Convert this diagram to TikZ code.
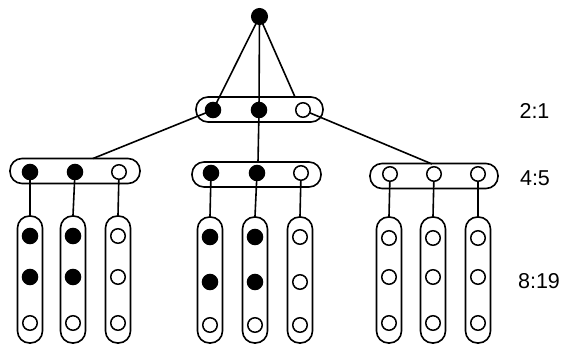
\documentclass[tikz,border=0pt]{standalone}
\usepackage{fontspec}
\setmainfont{Liberation Sans}
\usetikzlibrary{backgrounds}
\tikzset{
  dot/.style={circle, fill=black, draw=black, line width=1pt, inner sep=0pt, minimum size=15.5pt},
  odot/.style={circle, draw=black, fill=white, line width=1.5pt, inner sep=0pt, minimum size=14.5pt},
  hcap/.style={draw, line width=1.6pt, rounded corners=12pt, inner sep=0pt, minimum height=25pt},
  vcap/.style={draw, line width=1.6pt, rounded corners=12pt, inner sep=0pt, minimum width=25pt, minimum height=127pt},
  conn/.style={line width=1.6pt},
  ratio/.style={font=\fontsize{21.5}{24}\selectfont, inner sep=0pt}
}
\begin{document}
\begin{tikzpicture}[x=1pt,y=-1pt]
\useasboundingbox (0,0) rectangle (562,345);
% top
\node[dot, minimum size=16pt] (t) at (259.5,16.5) {};
% level 1
\node[hcap, minimum width=127pt] (c1) at (259.5,109.5) {};
\node[dot] (a1) at (213,110) {};
\node[dot] (a2) at (259,110) {};
\node[odot] (a3) at (303,110) {};
\coordinate (c1r) at (295,97);
% level 2
\node[hcap, minimum width=130pt] (cL) at (75,171) {};
\node[hcap, minimum width=129pt] (cM) at (256.5,174.5) {};
\node[hcap, minimum width=128pt] (cR) at (434,176) {};
\coordinate (cLt) at (93,158.5);
\coordinate (cMt) at (258,162);
\coordinate (cRt) at (432,164);
\node[dot] (l1) at (30,172) {};
\node[dot] (l2) at (75,172) {};
\node[odot] (l3) at (119,172) {};
\node[dot] (m1) at (211,173) {};
\node[dot] (m2) at (257,173) {};
\node[odot] (m3) at (301,173) {};
\node[odot] (r1) at (390,174) {};
\node[odot] (r2) at (434,174) {};
\node[odot] (r3) at (478,174) {};
% level 3 left group
\node[vcap] (vl1) at (30,279.5) {};
\node[vcap] (vl2) at (73,279.5) {};
\node[vcap] (vl3) at (118,279.5) {};
\node[dot] at (30,236) {}; \node[dot] at (30,277) {}; \node[odot] at (30,323) {};
\node[dot] at (73,236) {}; \node[dot] at (73,277) {}; \node[odot] at (73,323) {};
\node[odot] at (118,236) {}; \node[odot] at (118,277) {}; \node[odot] at (118,323) {};
% level 3 middle group
\node[vcap, minimum height=126pt] (vm1) at (210,280) {};
\node[vcap, minimum height=126pt] (vm2) at (255,280) {};
\node[vcap, minimum height=126pt] (vm3) at (300,280) {};
\node[dot] at (210,237) {}; \node[dot] at (210,282) {}; \node[odot] at (210,325) {};
\node[dot] at (255,237) {}; \node[dot] at (255,282) {}; \node[odot] at (255,325) {};
\node[odot] at (300,237) {}; \node[odot] at (300,282) {}; \node[odot] at (300,325) {};
% level 3 right group
\node[vcap, minimum height=126pt] (vr1) at (389,280) {};
\node[vcap, minimum height=126pt] (vr2) at (433,280) {};
\node[vcap, minimum height=126pt] (vr3) at (478,280) {};
\node[odot] at (389,238) {}; \node[odot] at (389,277) {}; \node[odot] at (389,323) {};
\node[odot] at (433,238) {}; \node[odot] at (433,277) {}; \node[odot] at (433,323) {};
\node[odot] at (478,238) {}; \node[odot] at (478,277) {}; \node[odot] at (478,323) {};
% labels
\node[ratio] (lab1) at (534.5,110.5) {2:1};
\node[ratio] (lab2) at (535,178) {4:5};
\node[ratio] (lab3) at (539,281) {8:19};
% connectors
\begin{scope}[on background layer]
\draw[conn] (t.center) -- (a1.center);
\draw[conn] (t.center) -- (a2.center);
\draw[conn] (t.center) -- (c1r);
\draw[conn] (a1.center) -- (cLt);
\draw[conn] (a2.center) -- (cMt);
\draw[conn] (a3.center) -- (cRt);
\draw[conn] (l1.center) -- (vl1.north);
\draw[conn] (l2.center) -- (vl2.north);
\draw[conn] (l3.center) -- (vl3.north);
\draw[conn] (m1.center) -- (vm1.north);
\draw[conn] (m2.center) -- (vm2.north);
\draw[conn] (m3.center) -- (vm3.north);
\draw[conn] (r1.center) -- (vr1.north);
\draw[conn] (r2.center) -- (vr2.north);
\draw[conn] (r3.center) -- (vr3.north);
\end{scope}
\end{tikzpicture}
\end{document}
